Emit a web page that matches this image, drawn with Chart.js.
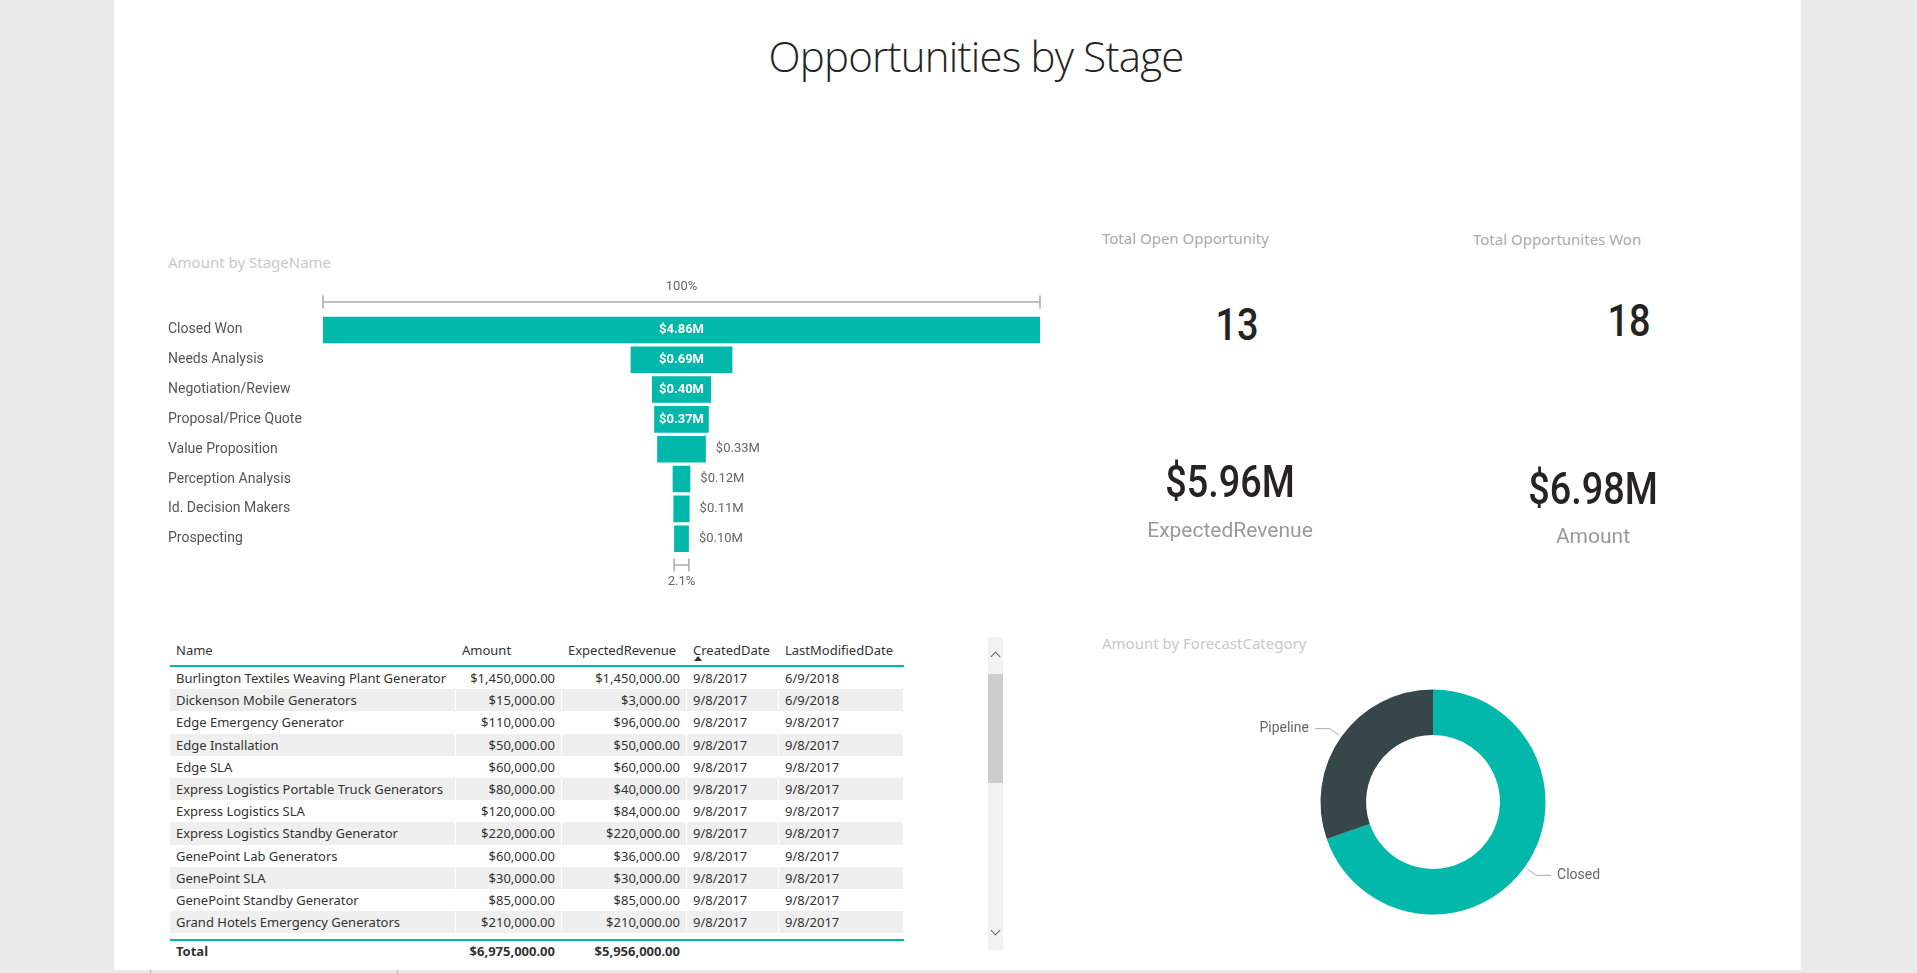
<!DOCTYPE html>
<html>
<head>
<meta charset="utf-8">
<script src="https://cdn.jsdelivr.net/npm/chart.js@4.4.0/dist/chart.umd.min.js"></script>
<style>
html,body{margin:0;padding:0;}
body{width:1917px;height:973px;background:#eaeaea;position:relative;overflow:hidden;font-family:"Segoe UI","Noto Sans","Open Sans",sans-serif;}
#panel{position:absolute;left:114px;top:0;width:1687px;height:970px;background:#fff;}
.abs{position:absolute;white-space:nowrap;}
.din{font-family:"DIN",Roboto,sans-serif;}
.big{font-weight:500;transform:scaleX(0.86);}
#tbl{position:absolute;left:170px;top:637px;width:734px;font-size:13px;color:#333;}
.row{display:flex;height:22.2px;line-height:22.2px;}
.cell{box-sizing:border-box;padding:0 6px;overflow:hidden;white-space:nowrap;border-right:1px solid #fff;}
.num{text-align:right;}
.shade .cell{background:#efefef;}
#hdr{height:28px;line-height:26px;border-bottom:2px solid #01b8aa;}
#body{height:272px;overflow:hidden;}
#tot{border-top:2px solid #01b8aa;height:21px;line-height:21px;font-weight:bold;}
#scroll{position:absolute;left:988px;top:637px;width:15px;height:313px;background:#f2f2f2;}
#thumb{position:absolute;left:0;top:37px;width:15px;height:109px;background:#cdcdcd;}
.chev{position:absolute;left:4px;width:6px;height:6px;border-left:1px solid #666;border-top:1px solid #666;}
</style>
</head>
<body>
<div id="panel"></div>
<div id="title" class="abs" style="left:676px;width:600px;text-align:center;top:35px;font-size:42px;line-height:42px;letter-spacing:-0.8px;font-weight:300;color:#252423;font-family:'Segoe UI Light','Open Sans','Noto Sans',sans-serif;">Opportunities by Stage</div>

<div class="abs" style="left:168px;top:254px;font-size:15px;line-height:16px;color:#c8c8c8;">Amount by StageName</div>
<div class="abs" style="left:160px;top:270px;width:900px;height:330px;"><canvas id="funnel" width="900" height="330"></canvas></div>

<div id="cards"></div>

<div class="abs" style="left:1102px;top:635px;font-size:15px;line-height:16px;color:#c8c8c8;">Amount by ForecastCategory</div>
<div class="abs" style="left:1233px;top:652px;width:400px;height:300px;"><canvas id="donut" width="400" height="300"></canvas></div>

<div id="tbl"></div>
<div id="scroll"><div id="thumb"></div>
  <div class="chev" style="top:16px;transform:rotate(45deg);"></div>
  <div class="chev" style="top:290px;transform:rotate(225deg);"></div>
</div>
<div class="abs" style="left:150px;top:970px;width:1px;height:3px;background:#aaa;"></div>
<div class="abs" style="left:397px;top:970px;width:1px;height:3px;background:#aaa;"></div>

<script>
// ---------- DATA ----------
const stages = ['Closed Won','Needs Analysis','Negotiation/Review','Proposal/Price Quote','Value Proposition','Perception Analysis','Id. Decision Makers','Prospecting'];
const stageAmounts = [4.86, 0.69, 0.40, 0.37, 0.33, 0.12, 0.11, 0.10]; // $M

const forecastCategories = ['Closed','Pipeline'];
const forecastAmounts = [4.86, 2.115]; // $M

const cardTitles = ['Total Open Opportunity','Total Opportunites Won'];
const cardCounts = [13, 18];
const kpiLabels = ['ExpectedRevenue','Amount'];
const kpiValues = [5956000, 6975000];

const tableHeaders = ['Name','Amount','ExpectedRevenue','CreatedDate','LastModifiedDate'];
const oppNames = ['Burlington Textiles Weaving Plant Generator','Dickenson Mobile Generators','Edge Emergency Generator','Edge Installation','Edge SLA','Express Logistics Portable Truck Generators','Express Logistics SLA','Express Logistics Standby Generator','GenePoint Lab Generators','GenePoint SLA','GenePoint Standby Generator','Grand Hotels Emergency Generators','Grand Hotels Generator Installations'];
const oppAmounts = [1450000,15000,110000,50000,60000,80000,120000,220000,60000,30000,85000,210000,350000];
const oppExpected = [1450000,3000,96000,50000,60000,40000,84000,220000,36000,30000,85000,210000,350000];
const oppCreated = ['9/8/2017','9/8/2017','9/8/2017','9/8/2017','9/8/2017','9/8/2017','9/8/2017','9/8/2017','9/8/2017','9/8/2017','9/8/2017','9/8/2017','9/8/2017'];
const oppModified = ['6/9/2018','6/9/2018','9/8/2017','9/8/2017','9/8/2017','9/8/2017','9/8/2017','9/8/2017','9/8/2017','9/8/2017','9/8/2017','9/8/2017','9/8/2017'];
const totalAmount = 6975000;
const totalExpected = 5956000;

// ---------- STYLE ----------
const TEAL = '#01b8aa', DARK = '#374649';
const DIN = '"DIN",Roboto,sans-serif';
const SEGOE = '"Segoe UI","Noto Sans","Open Sans",sans-serif';
Chart.defaults.font.family = DIN;
Chart.defaults.animation = false;

// ---------- CARDS ----------
const cards = document.getElementById('cards');
function addText(txt, cx, cy, size, color, cls, align, left){
  const d = document.createElement('div');
  d.className = 'abs ' + (cls||'');
  d.textContent = txt;
  d.style.fontSize = size+'px'; d.style.lineHeight = size+'px';
  d.style.top = (cy - size/2)+'px'; d.style.color = color;
  if (align === 'left'){ d.style.left = left+'px'; }
  else { d.style.left = (cx-200)+'px'; d.style.width='400px'; d.style.textAlign='center'; }
  cards.appendChild(d);
}
const fmtM = v => '$' + (Math.round(v/10000)/100).toFixed(2) + 'M';
addText(cardTitles[0], 0, 238, 15, '#aaaaaa', '', 'left', 1102);
addText(cardTitles[1], 0, 239, 15, '#aaaaaa', '', 'left', 1473);
addText(String(cardCounts[0]), 1237, 325, 44, '#252423', 'din big');
addText(String(cardCounts[1]), 1629, 321, 44, '#252423', 'din big');
addText(fmtM(kpiValues[0]), 1230, 482, 44, '#252423', 'din big');
addText(kpiLabels[0], 1230, 530, 21, '#999999', 'din');
addText(fmtM(kpiValues[1]), 1593, 489, 44, '#252423', 'din big');
addText(kpiLabels[1], 1593, 536, 21, '#999999', 'din');

// ---------- TABLE ----------
const colW = [286,106,125,92,125];
const money = v => '$' + v.toLocaleString('en-US',{minimumFractionDigits:2,maximumFractionDigits:2});
const tbl = document.getElementById('tbl');
function mkRow(vals, cls, numCols){
  const r = document.createElement('div'); r.className = 'row ' + (cls||'');
  vals.forEach((v,i)=>{
    const c = document.createElement('div');
    c.className = 'cell' + (numCols.includes(i)?' num':'');
    c.style.width = colW[i]+'px';
    c.textContent = v;
    r.appendChild(c);
  });
  return r;
}
const hdr = mkRow(tableHeaders, '', []); hdr.id='hdr'; tbl.appendChild(hdr);
const arrow = document.createElement('div');
arrow.style.cssText='position:absolute;left:524px;top:19px;width:0;height:0;border-left:4px solid transparent;border-right:4px solid transparent;border-bottom:5px solid #333;';
tbl.appendChild(arrow);
const body = document.createElement('div'); body.id='body';
oppNames.forEach((n,i)=>{
  body.appendChild(mkRow([n, money(oppAmounts[i]), money(oppExpected[i]), oppCreated[i], oppModified[i]], i%2?'shade':'', [1,2]));
});
tbl.appendChild(body);
const tot = mkRow(['Total', money(totalAmount), money(totalExpected), '', ''], '', [1,2]); tot.id='tot';
tbl.appendChild(tot);

// ---------- FUNNEL ----------
const maxV = Math.max(...stageAmounts);
const funnelLabels = {
  id:'funnelLabels',
  afterDatasetsDraw(chart){
    const ctx = chart.ctx, meta = chart.getDatasetMeta(0), xs = chart.scales.x, area = chart.chartArea;
    ctx.save();
    meta.data.forEach((bar,i)=>{
      const p = bar.getProps(['x','y','base'], true);
      const l = Math.min(p.x,p.base), r = Math.max(p.x,p.base);
      const txt = '$' + stageAmounts[i].toFixed(2) + 'M';
      ctx.font = 'bold 13px ' + DIN;
      const tw = ctx.measureText(txt).width;
      ctx.textBaseline = 'middle';
      if (r - l >= tw + 4){
        ctx.fillStyle = '#ffffff'; ctx.textAlign = 'center';
        ctx.fillText(txt, (l+r)/2, p.y);
      } else {
        ctx.font = '13px ' + DIN;
        ctx.fillStyle = '#666666'; ctx.textAlign = 'left';
        ctx.fillText(txt, r + 10, p.y);
      }
    });
    // top bracket (100%)
    ctx.strokeStyle = '#aaaaaa'; ctx.lineWidth = 1.5;
    const x0 = xs.getPixelForValue(-maxV/2), x1 = xs.getPixelForValue(maxV/2);
    const ty = area.top - 13;
    ctx.beginPath();
    ctx.moveTo(x0, ty); ctx.lineTo(x1, ty);
    ctx.moveTo(x0, ty-6.5); ctx.lineTo(x0, ty+6.5);
    ctx.moveTo(x1, ty-6.5); ctx.lineTo(x1, ty+6.5);
    ctx.stroke();
    ctx.font = '13px ' + DIN; ctx.fillStyle = '#666666'; ctx.textAlign='center'; ctx.textBaseline='middle';
    ctx.fillText('100%', (x0+x1)/2, ty - 15);
    // bottom bracket (last / first)
    const last = stageAmounts[stageAmounts.length-1];
    const b0 = xs.getPixelForValue(-last/2), b1 = xs.getPixelForValue(last/2);
    const by = area.bottom + 11.5;
    ctx.beginPath();
    ctx.moveTo(b0, by); ctx.lineTo(b1, by);
    ctx.moveTo(b0, by-6.5); ctx.lineTo(b0, by+6.5);
    ctx.moveTo(b1, by-6.5); ctx.lineTo(b1, by+6.5);
    ctx.stroke();
    ctx.fillText((last/maxV*100).toFixed(1)+'%', (b0+b1)/2, by + 17);
    ctx.restore();
  }
};
new Chart(document.getElementById('funnel'), {
  type:'bar',
  data:{ labels: stages, datasets:[{ data: stageAmounts.map(v=>[-v/2, v/2]), backgroundColor: TEAL, borderWidth:0, barPercentage:1, categoryPercentage:0.89 }]},
  options:{
    indexAxis:'y', responsive:false, animation:false,
    layout:{ padding:{ left:8, right:20, top:45, bottom:46.4 } },
    plugins:{ legend:{display:false}, tooltip:{enabled:false} },
    scales:{
      x:{ display:false, min:-maxV/2, max:maxV/2 },
      y:{ grid:{display:false, drawTicks:false}, border:{display:false},
          ticks:{ crossAlign:'far', padding:0, color:'#555555', font:{ family:DIN, size:14 } },
          afterFit(s){ s.width = 155; } }
    }
  },
  plugins:[funnelLabels]
});

// ---------- DONUT ----------
const donutLabels = {
  id:'donutLabels',
  afterDatasetsDraw(chart){
    const ctx = chart.ctx, meta = chart.getDatasetMeta(0);
    ctx.save();
    ctx.strokeStyle = '#aaaaaa'; ctx.lineWidth = 1;
    ctx.font = '14px ' + DIN; ctx.fillStyle = '#666666'; ctx.textBaseline = 'middle';
    meta.data.forEach((arc,i)=>{
      const p = arc.getProps(['x','y','startAngle','endAngle','outerRadius'], true);
      const mid = (p.startAngle + p.endAngle)/2;
      const c = Math.cos(mid), s = Math.sin(mid);
      const ax = p.x + c*(p.outerRadius+3), ay = p.y + s*(p.outerRadius+3);
      const bx = p.x + c*(p.outerRadius+14), byy = p.y + s*(p.outerRadius+14);
      const dir = c >= 0 ? 1 : -1;
      const ex = bx + dir*15;
      ctx.beginPath(); ctx.moveTo(ax, ay); ctx.lineTo(bx, byy); ctx.lineTo(ex, byy); ctx.stroke();
      ctx.textAlign = dir > 0 ? 'left' : 'right';
      ctx.fillText(forecastCategories[i], ex + dir*6, byy);
    });
    ctx.restore();
  }
};
new Chart(document.getElementById('donut'), {
  type:'doughnut',
  data:{ labels: forecastCategories, datasets:[{ data: forecastAmounts, backgroundColor:[TEAL, DARK], borderWidth:0 }]},
  options:{
    responsive:false, animation:false, cutout:'59.5%',
    layout:{ padding:{ top:37.5, bottom:37.5, left:87.5, right:87.5 } },
    plugins:{ legend:{display:false}, tooltip:{enabled:false} }
  },
  plugins:[donutLabels]
});
</script>
</body>
</html>
